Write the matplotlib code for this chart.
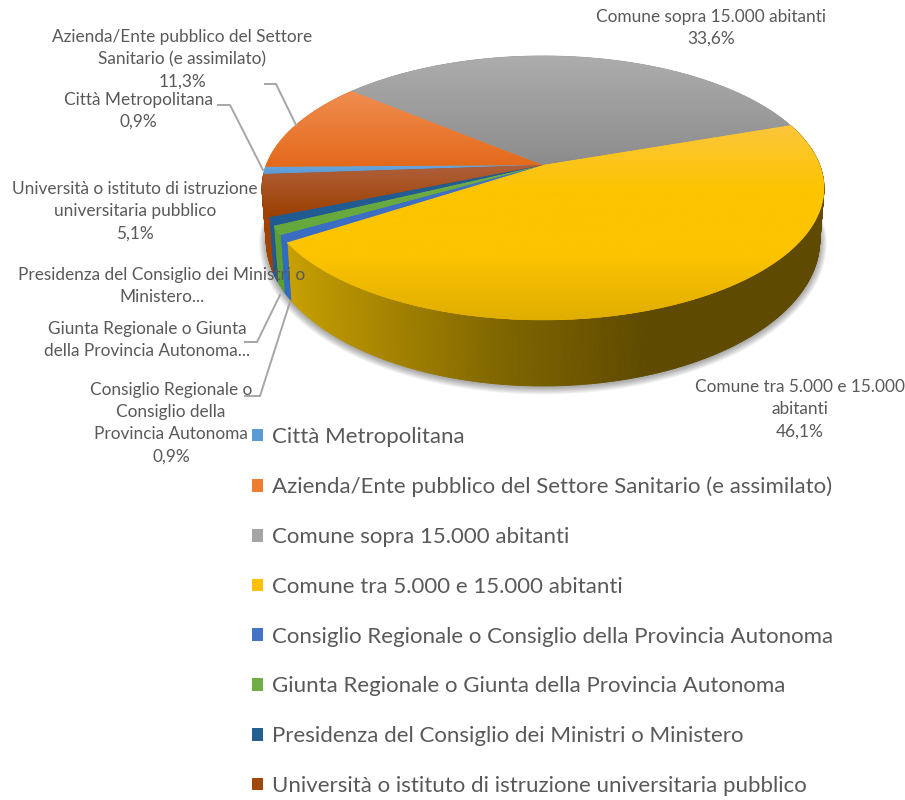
#!/usr/bin/env python
# coding: utf-8
# 3D looking pie, drawn by hand since matplotlib has no perspective pie

import numpy as np
import matplotlib
matplotlib.use("Agg")
import matplotlib.pyplot as plt
from matplotlib.colors import LinearSegmentedColormap, to_rgb
from matplotlib.patches import Patch, Polygon

plt.rcParams["font.family"] = ["Lato", "DejaVu Sans"]

categories = ["Città Metropolitana",
              "Azienda/Ente pubblico del Settore Sanitario (e assimilato)",
              "Comune sopra 15.000 abitanti",
              "Comune tra 5.000 e 15.000 abitanti",
              "Consiglio Regionale o Consiglio della Provincia Autonoma",
              "Giunta Regionale o Giunta della Provincia Autonoma",
              "Presidenza del Consiglio dei Ministri o Ministero",
              "Università o istituto di istruzione universitaria pubblico"]
shares = [0.9, 11.3, 33.6, 46.1, 0.9, 1.1, 1.0, 5.1]

colors = ["#5b9bd5", "#ed7d31", "#a5a5a5", "#ffc000",
          "#4472c4", "#70ad47", "#255e91", "#9e480e"]
# top face gradients, top of slice to bottom of slice
top_stops = [["#6aa6dc", "#5b9bd5"],
             ["#f08d50", "#e4691a"],
             ["#adadad", "#8c8c8c"],
             ["#fbc63c", "#fdc400", "#fdc400", "#e0ae00"],
             ["#4472c4", "#3a6cc4"],
             ["#70ad47", "#64a83a"],
             ["#255e91", "#1f5a92"],
             ["#b0603c", "#9c4000"]]
wall_colors = ["#5b9bd5", "#ed7d31", "#a5a5a5", None,
               "#2f6cc0", "#5c9e34", "#1f5a92", "#a04203"]

# yellow side wall runs dark to the right
yellow_x = [285, 380, 500, 650, 825]
yellow_rgb = np.array([to_rgb(c) for c in ["#c9a000", "#a88600", "#806600", "#5e4a00", "#5e4a00"]])

# rim of the top face on screen, and where the disc centre lands
cx, cy, rx, ry = 543, 188, 281, 132
skew = 0.174
start_angle = 184.0


def project(u, v):
    w = 1 + skew * v
    x = u * np.sqrt(1 - skew ** 2) / w
    y = (v + skew) / w
    return cx + rx * x, cy - ry * y


def wall_bottom(x, y):
    yy = np.clip((y - cy) / ry, 0, 1)
    return cx + (x - cx) * 0.985, y + 52 + 14 * yy


fig = plt.figure(figsize=(9.05, 8), dpi=100)
ax = fig.add_axes([0, 0, 1, 1])

# shadow under the pie
t = np.linspace(0, 2 * np.pi, 400)
sx, sy = wall_bottom(*project(np.cos(t), np.sin(t)))
for grow in range(1, 8):
    px = cx + (sx - cx) * (1 + grow / 281)
    py = cy + (sy - cy) * (1 + grow / 190) + 1
    ax.add_patch(Polygon(np.column_stack([px, py]), fc="black", ec="none", alpha=0.05, zorder=1))

# angles of the slices, clockwise
edges = start_angle - np.cumsum([0] + shares) * 3.6

# side walls first, the top faces cover what is at the back
for i in range(len(shares)):
    a = np.radians(np.arange(edges[i], edges[i + 1] - 0.5, -0.5))
    a = np.append(a, np.radians(edges[i + 1]))
    x, y = project(np.cos(a), np.sin(a))
    bx, by = wall_bottom(x, y)
    for j in range(len(a) - 1):
        if wall_colors[i] is None:
            c = [np.interp(x[j], yellow_x, yellow_rgb[:, k]) for k in range(3)]
        else:
            c = wall_colors[i]
        quad = [(x[j], y[j]), (x[j + 1], y[j + 1]), (bx[j + 1], by[j + 1]), (bx[j], by[j])]
        ax.add_patch(Polygon(quad, fc=c, ec=c, lw=0.6, zorder=2))

# top faces, each with its own vertical gradient
for i in range(len(shares)):
    a = np.radians(np.linspace(edges[i], edges[i + 1], 200))
    x, y = project(np.cos(a), np.sin(a))
    ox, oy = project(0.0, 0.0)
    x = np.append(x, ox)
    y = np.append(y, oy)
    poly = Polygon(np.column_stack([x, y]), fc=colors[i], ec=colors[i], lw=0.3, zorder=3)
    ax.add_patch(poly)
    cmap = LinearSegmentedColormap.from_list("s%d" % i, top_stops[i])
    grad = np.linspace(0, 1, 256).reshape(-1, 1)
    im = ax.imshow(grad, cmap=cmap, aspect="auto", zorder=3.1,
                   extent=[x.min(), x.max(), y.max(), y.min()])
    im.set_clip_path(poly)

ax.set_xlim(0, 905)
ax.set_ylim(800, 0)
ax.axis("off")

# leader lines
grey = "#a6a6a6"
ax.plot([265, 276, 296], [84, 84, 125], color=grey, lw=1.4, zorder=4)
ax.plot([218, 230, 263], [105, 105, 170], color=grey, lw=1.4, zorder=4)
ax.plot([245, 257, 280], [342, 342, 295], color=grey, lw=1.4, zorder=4)
ax.plot([245, 260, 290], [396, 396, 302], color=grey, lw=1.4, zorder=4)

# data labels
txt = "#595959"
labels = [(711, 28, "Comune sopra 15.000 abitanti\n33,6%"),
          (182, 59, "Azienda/Ente pubblico del Settore\nSanitario (e assimilato)\n11,3%"),
          (138, 111, "Città Metropolitana\n0,9%"),
          (135, 211, "Università o istituto di istruzione\nuniversitaria pubblico\n5,1%"),
          (162, 286, "Presidenza del Consiglio dei Ministri o\nMinistero..."),
          (147, 340, "Giunta Regionale o Giunta\ndella Provincia Autonoma..."),
          (171, 423, "Consiglio Regionale o\nConsiglio della\nProvincia Autonoma\n0,9%"),
          (800, 409, "Comune tra 5.000 e 15.000\nabitanti\n46,1%")]
for lx, ly, s in labels:
    ax.text(lx, ly, s, ha="center", va="center", fontsize=12.45, color=txt,
            linespacing=1.48, zorder=6)

handles = [Patch(fc=c, ec="none") for c in colors]
ax.legend(handles, categories, loc="upper left", bbox_to_anchor=(252, 427),
          bbox_transform=ax.transData, frameon=False, fontsize=16,
          labelcolor=txt, borderpad=0, borderaxespad=0, labelspacing=1.34,
          handlelength=0.5, handleheight=0.5, handletextpad=0.42)

plt.savefig("out.png", dpi=100)
print("Saved figure")
